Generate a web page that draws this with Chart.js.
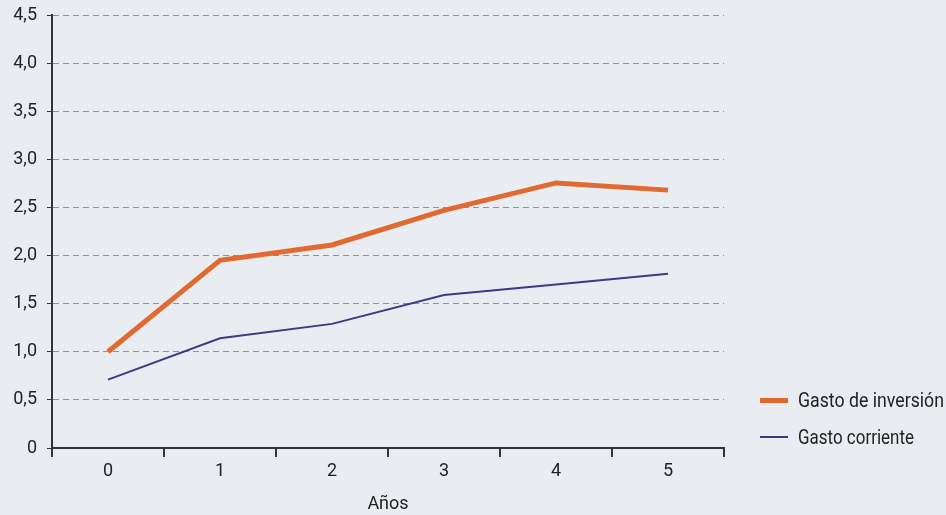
<!DOCTYPE html>
<html>
<head>
<meta charset="utf-8">
<script src="https://cdn.jsdelivr.net/npm/chart.js@4"></script>
<style>
  html, body { margin: 0; padding: 0; background: #e9edf2; }
  #wrap { position: relative; width: 946px; height: 515px; }
  canvas { position: absolute; left: 0; top: 0; }
  .leg { position: absolute; left: 760px; font-family: 'Roboto', sans-serif; font-size: 20px; color: #222; white-space: nowrap; }
  .leg span.sw { position: absolute; left: 0; width: 28px; }
  .leg span.tx { position: absolute; left: 38px; top: -12px; transform-origin: 0 50%; display: inline-block; }
</style>
</head>
<body>
<div id="wrap">
  <canvas id="c" width="946" height="515"></canvas>
  <div class="leg" style="top:400px"><span class="sw" style="height:5px;top:-2px;background:#e06a30"></span><span class="tx" data-w="146">Gasto de inversión</span></div>
  <div class="leg" style="top:437px"><span class="sw" style="height:2px;top:-1px;background:#3d3a86"></span><span class="tx" data-w="116">Gasto corriente</span></div>
</div>
<script>
const categories = ['0', '1', '2', '3', '4', '5'];
const inversion = [1.0, 1.95, 2.11, 2.47, 2.755, 2.68];
const corriente = [0.71, 1.14, 1.29, 1.59, 1.70, 1.81];
const yTicks = [0, 0.5, 1, 1.5, 2, 2.5, 3, 3.5, 4, 4.5];
const FONT = "'Roboto', sans-serif";

document.querySelectorAll('.leg .tx').forEach(el => {
  const w = el.getBoundingClientRect().width;
  el.style.transform = 'scaleX(' + (Number(el.dataset.w) / w) + ')';
});

new Chart(document.getElementById('c'), {
  type: 'line',
  data: {
    labels: categories,
    datasets: [
      { label: 'Gasto de inversión', data: inversion, borderColor: '#e06a30', borderWidth: 5, pointRadius: 0, tension: 0, borderJoinStyle: 'miter' },
      { label: 'Gasto corriente', data: corriente, borderColor: '#3d3a86', borderWidth: 2, pointRadius: 0, tension: 0 }
    ]
  },
  options: {
    responsive: false,
    animation: false,
    layout: { padding: { left: 0, right: 222, top: 15, bottom: 0 } },
    plugins: { legend: { display: false }, tooltip: { enabled: false } },
    scales: {
      x: {
        offset: true,
        grid: { offset: true, drawOnChartArea: false, tickLength: 9, tickColor: '#333', lineWidth: 2 },
        border: { color: '#333', width: 2 },
        ticks: { color: '#222', font: { family: FONT, size: 18 }, padding: 4 },
        title: { display: true, text: 'Años', color: '#222', font: { family: FONT, size: 18 }, padding: { top: 8, bottom: 0 } },
        afterFit: s => { s.height = 67; }
      },
      y: {
        min: 0, max: 4.5,
        afterBuildTicks: s => { s.ticks = yTicks.map(v => ({ value: v })); },
        grid: {
          color: ctx => ctx.tick && ctx.tick.value === 0 ? 'rgba(0,0,0,0)' : '#8f9296',
          tickColor: '#333', tickLength: 5, lineWidth: 1
        },
        border: { color: '#333', width: 2, dash: [6, 4] },
        ticks: {
          color: '#222', font: { family: FONT, size: 18 }, padding: 10,
          callback: v => v === 0 ? '0' : v.toFixed(1).replace('.', ',')
        },
        afterFit: s => { s.width = 52; s.paddingTop = 9; s.paddingBottom = 0; }
      }
    }
  }
});
</script>
</body>
</html>
